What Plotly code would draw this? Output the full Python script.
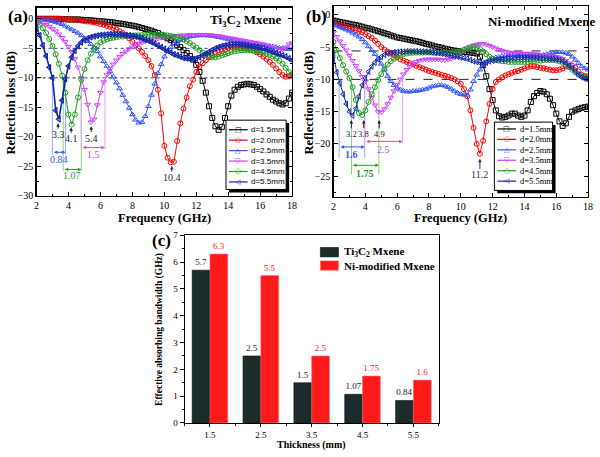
import plotly.graph_objects as go

# ---------------- data ----------------
FREQ = [2.0, 2.2, 2.4, 2.6, 2.8, 3.0, 3.2, 3.4, 3.6, 3.8,
        4.0, 4.2, 4.4, 4.6, 4.8, 5.0, 5.2, 5.4, 5.6, 5.8,
        6.0, 6.2, 6.4, 6.6, 6.8, 7.0, 7.2, 7.4, 7.6, 7.8,
        8.0, 8.2, 8.4, 8.6, 8.8, 9.0, 9.2, 9.4, 9.6, 9.8,
        10.0, 10.2, 10.4, 10.6, 10.8, 11.0, 11.2, 11.4, 11.6, 11.8,
        12.0, 12.2, 12.4, 12.6, 12.8, 13.0, 13.2, 13.4, 13.6, 13.8,
        14.0, 14.2, 14.4, 14.6, 14.8, 15.0, 15.2, 15.4, 15.6, 15.8,
        16.0, 16.2, 16.4, 16.6, 16.8, 17.0, 17.2, 17.4, 17.6, 17.8,
        18.0]

# (a) Ti3C2 Mxene
A_D15 = [0, 0, 0, 0, 0, 0, 0, 0, -0.05, -0.05,
         -0.1, -0.1, -0.1, -0.1, -0.15, -0.2, -0.2, -0.25, -0.3, -0.35,
         -0.4, -0.45, -0.5, -0.55, -0.6, -0.7, -0.8, -0.85, -0.95, -1.05,
         -1.15, -1.25, -1.4, -1.55, -1.7, -1.85, -2.0, -2.2, -2.4, -2.7,
         -3.0, -3.3, -3.6, -4.0, -4.4, -4.8, -5.3, -5.8, -6.3, -6.9,
         -7.8, -9.0, -10.5, -12.5, -14.8, -16.8, -18.2, -18.8, -18.3, -16.8,
         -14.8, -13.0, -12.0, -11.5, -11.2, -11.1, -11.0, -11.1, -11.2, -11.5,
         -11.9, -12.3, -12.8, -13.2, -13.7, -14.0, -14.3, -14.5, -14.3, -13.5,
         -12.5]
A_D20 = [0, 0, 0, 0, 0, 0, 0, 0, 0, -0.05,
         -0.1, -0.1, -0.15, -0.2, -0.3, -0.4, -0.45, -0.5, -0.6, -0.7,
         -0.9, -1.0, -1.2, -1.35, -1.55, -1.8, -2.1, -2.4, -2.8, -3.3,
         -3.9, -4.4, -5.0, -5.6, -6.3, -7.0, -8.0, -9.5, -12.0, -16.0,
         -21.5, -23.5, -24.3, -24.2, -20.7, -17.7, -15.2, -13.3, -11.4, -10.3,
         -9.0, -8.1, -7.5, -7.0, -6.5, -6.2, -5.9, -5.7, -5.5, -5.3,
         -4.9, -4.8, -4.8, -4.8, -4.9, -5.0, -5.1, -5.2, -5.4, -5.7,
         -6.0, -6.4, -6.8, -7.3, -7.8, -8.4, -9.0, -9.5, -9.8, -9.7,
         -9.4]
A_D25 = [-0.1, -0.1, -0.15, -0.2, -0.3, -0.4, -0.55, -0.7, -0.9, -1.2,
         -1.5, -1.8, -2.1, -2.4, -2.8, -3.3, -3.8, -4.3, -4.9, -5.5,
         -6.4, -7.2, -8.0, -8.9, -9.8, -10.8, -11.8, -12.9, -14.0, -15.1,
         -16.2, -17.1, -17.6, -17.5, -16.5, -14.8, -12.9, -11.0, -9.2, -7.7,
         -6.4, -5.5, -4.8, -4.3, -3.9, -3.6, -3.3, -3.1, -3.0, -2.9,
         -2.85, -2.8, -2.8, -2.8, -2.85, -2.9, -3.0, -3.1, -3.2, -3.35,
         -3.5, -3.6, -3.7, -3.8, -3.9, -4.0, -4.1, -4.2, -4.25, -4.3,
         -4.35, -4.4, -4.5, -4.6, -4.7, -4.8, -4.9, -5.0, -5.1, -5.1,
         -5.1]
A_D35 = [-0.3, -0.5, -0.7, -1.0, -1.3, -1.7, -2.1, -2.6, -3.2, -3.9,
         -4.7, -5.6, -6.8, -8.2, -10.0, -12.0, -14.5, -17.5, -17.0, -14.6,
         -12.5, -10.7, -9.5, -8.5, -7.7, -7.0, -6.4, -5.9, -5.5, -5.1,
         -4.8, -4.5, -4.2, -4.0, -3.8, -3.6, -3.5, -3.4, -3.3, -3.2,
         -3.1, -3.0, -3.0, -2.9, -2.9, -2.8, -2.8, -2.8, -2.7, -2.7,
         -2.7, -2.7, -2.7, -2.7, -2.75, -2.8, -2.85, -2.9, -3.0, -3.1,
         -3.2, -3.3, -3.4, -3.5, -3.6, -3.7, -3.8, -3.9, -4.0, -4.1,
         -4.2, -4.3, -4.5, -4.7, -4.9, -5.1, -5.2, -5.2, -4.8, -4.3,
         -4.1]
A_D45 = [-0.6, -1.0, -1.6, -2.4, -3.4, -4.6, -6.0, -7.6, -9.6, -12.5,
         -16.2, -17.9, -16.2, -13.3, -10.3, -8.5, -7.0, -5.9, -5.1, -4.5,
         -4.0, -3.7, -3.5, -3.3, -3.2, -3.1, -3.0, -3.0, -2.9, -2.9,
         -2.85, -2.8, -2.8, -2.75, -2.75, -2.7, -2.7, -2.7, -2.7, -2.7,
         -2.75, -2.8, -2.9, -3.0, -3.1, -3.3, -3.5, -3.8, -4.1, -4.5,
         -4.9, -5.3, -5.7, -6.0, -6.3, -6.5, -6.5, -6.4, -6.2, -6.0,
         -5.8, -5.6, -5.5, -5.4, -5.3, -5.3, -5.3, -5.3, -5.4, -5.5,
         -5.6, -5.7, -5.9, -6.1, -6.4, -6.7, -7.1, -7.6, -8.3, -9.0,
         -9.6]
A_D55 = [-1.5, -2.8, -4.5, -6.3, -8.2, -10.0, -15.5, -17.0, -13.8, -10.2,
         -8.0, -6.5, -5.4, -4.6, -4.0, -3.6, -3.3, -3.1, -2.95, -2.85,
         -2.75, -2.7, -2.65, -2.6, -2.6, -2.6, -2.65, -2.7, -2.75, -2.8,
         -2.9, -3.0, -3.15, -3.3, -3.5, -3.7, -3.95, -4.2, -4.5, -4.8,
         -5.1, -5.4, -5.7, -6.0, -6.2, -6.4, -6.6, -6.7, -6.8, -6.8,
         -6.7, -6.5, -6.2, -5.9, -5.6, -5.3, -5.0, -4.8, -4.6, -4.5,
         -4.4, -4.3, -4.3, -4.3, -4.35, -4.4, -4.5, -4.6, -4.7, -4.8,
         -4.9, -5.0, -5.2, -5.4, -5.6, -5.8, -6.0, -6.2, -6.4, -6.7,
         -7.0]

# (b) Ni-modified Mxene
B_D15 = [-0.9, -1.0, -1.1, -1.2, -1.3, -1.4, -1.5, -1.6, -1.7, -1.85,
         -2.0, -2.1, -2.25, -2.4, -2.55, -2.7, -2.85, -3.0, -3.2, -3.35,
         -3.5, -3.6, -3.7, -3.8, -3.9, -4.0, -4.1, -4.2, -4.35, -4.5,
         -4.6, -4.75, -4.9, -5.0, -5.1, -5.25, -5.35, -5.45, -5.55, -5.6,
         -5.7, -5.75, -5.8, -5.85, -5.9, -6.0, -6.5, -7.8, -9.5, -11.5,
         -13.2, -14.8, -15.7, -15.9, -15.8, -15.6, -15.3, -15.3, -15.6, -15.8,
         -15.6, -14.8, -13.5, -12.6, -12.1, -11.8, -11.9, -12.3, -13.0, -14.0,
         -15.3, -16.5, -17.2, -16.8, -15.8, -15.0, -14.8, -14.6, -14.4, -14.3,
         -14.2]
B_D20 = [-1.3, -1.45, -1.6, -1.75, -1.9, -2.05, -2.2, -2.35, -2.5, -2.7,
         -3.0, -3.3, -3.6, -4.0, -4.5, -5.0, -5.4, -5.7, -6.0, -6.3,
         -6.6, -6.9, -7.1, -7.3, -7.5, -7.7, -7.9, -8.1, -8.3, -8.5,
         -8.7, -8.85, -9.0, -9.15, -9.3, -9.45, -9.6, -9.8, -10.0, -10.3,
         -10.7, -11.5, -12.6, -14.8, -17.5, -20.0, -21.5, -19.5, -16.5, -13.8,
         -11.5, -10.4, -10.0, -9.7, -9.4, -9.2, -9.0, -8.8, -8.7, -8.5,
         -8.3, -8.1, -8.0, -8.0, -8.1, -8.2, -8.3, -8.4, -8.5, -8.6,
         -8.6, -8.5, -8.3, -8.0, -7.9, -7.9, -8.2, -8.8, -9.3, -9.5,
         -9.5]
B_D25 = [-1.5, -1.7, -1.9, -2.1, -2.3, -2.5, -2.8, -3.1, -3.4, -3.8,
         -4.3, -4.9, -5.5, -6.1, -6.8, -7.6, -8.5, -9.5, -10.3, -10.9,
         -11.3, -11.6, -11.8, -11.9, -11.9, -11.8, -11.8, -11.7, -11.6, -11.5,
         -11.3, -11.1, -11.0, -10.9, -10.9, -11.0, -11.2, -11.5, -11.8, -12.1,
         -12.3, -12.4, -12.4, -11.6, -10.3, -9.3, -8.5, -7.8, -7.3, -7.0,
         -6.8, -6.6, -6.5, -6.4, -6.3, -6.3, -6.2, -6.2, -6.2, -6.2,
         -6.2, -6.2, -6.3, -6.3, -6.3, -6.3, -6.2, -6.1, -6.0, -5.9,
         -5.8, -5.8, -5.8, -5.9, -6.1, -6.5, -7.0, -7.5, -8.0, -8.3,
         -8.5]
B_D35 = [-2.7, -3.4, -4.1, -4.8, -5.5, -6.3, -7.1, -7.9, -8.7, -9.6,
         -10.3, -11.5, -12.8, -14.0, -15.0, -15.1, -14.6, -13.8, -12.8, -11.8,
         -10.8, -10.0, -9.2, -8.5, -8.0, -7.6, -7.3, -7.1, -7.0, -6.9,
         -6.9, -6.9, -6.9, -6.9, -7.0, -7.0, -6.9, -6.8, -6.6, -6.3,
         -6.0, -5.6, -5.2, -4.9, -4.7, -4.6, -4.5, -4.5, -4.6, -4.8,
         -5.0, -5.2, -5.4, -5.6, -5.7, -5.8, -5.9, -5.9, -5.9, -6.0,
         -6.0, -6.0, -6.0, -6.1, -6.1, -6.2, -6.3, -6.3, -6.4, -6.5,
         -6.5, -6.6, -6.8, -7.1, -7.5, -8.0, -8.6, -9.1, -9.6, -9.8,
         -10.0]
B_D45 = [-4.2, -5.5, -6.7, -7.8, -8.8, -9.8, -11.2, -13.2, -15.2, -15.5,
         -14.8, -13.5, -12.3, -11.2, -10.1, -9.2, -8.4, -7.7, -7.2, -6.8,
         -6.5, -6.3, -6.1, -6.0, -5.9, -5.9, -5.85, -5.85, -5.85, -5.85,
         -5.85, -5.85, -5.9, -5.9, -5.9, -5.9, -5.9, -5.85, -5.8, -5.7,
         -5.6, -5.4, -5.2, -5.1, -5.0, -5.1, -5.3, -5.7, -6.1, -6.5,
         -6.8, -7.0, -7.1, -7.2, -7.2, -7.3, -7.3, -7.3, -7.3, -7.3,
         -7.3, -7.3, -7.2, -7.2, -7.1, -7.1, -7.0, -7.0, -7.0, -7.0,
         -7.1, -7.2, -7.4, -7.7, -8.1, -8.5, -8.9, -9.3, -9.5, -9.7,
         -9.8]
B_D55 = [-6.3, -8.9, -10.6, -12.3, -13.8, -15.0, -15.6, -14.5, -12.6, -10.9,
         -9.8, -8.8, -8.0, -7.4, -6.9, -6.5, -6.2, -6.0, -5.9, -5.8,
         -5.75, -5.7, -5.7, -5.65, -5.65, -5.65, -5.65, -5.7, -5.7, -5.7,
         -5.75, -5.8, -5.85, -5.9, -6.0, -6.1, -6.2, -6.3, -6.4, -6.5,
         -6.6, -6.7, -6.8, -7.0, -7.2, -7.3, -7.4, -7.5, -7.4, -7.2,
         -7.1, -7.0, -6.9, -6.9, -6.8, -6.8, -6.7, -6.7, -6.6, -6.6,
         -6.6, -6.6, -6.6, -6.6, -6.6, -6.7, -6.7, -6.8, -6.8, -6.8,
         -6.9, -7.0, -7.2, -7.5, -7.9, -8.3, -8.8, -9.3, -9.7, -9.9,
         -10.0]

SERIES_NAMES = ["d=1.5mm", "d=2.0mm", "d=2.5mm", "d=3.5mm", "d=4.5mm", "d=5.5mm"]
A_SERIES = [A_D15, A_D20, A_D25, A_D35, A_D45, A_D55]
B_SERIES = [B_D15, B_D20, B_D25, B_D35, B_D45, B_D55]

# (c) effective absorbing bandwidth
THICKNESS = [1.5, 2.5, 3.5, 4.5, 5.5]
THICK_TICKS = ["1.5", "2.5", "3.5", "4.5", "5.5"]
EAB_TI = [5.7, 2.5, 1.5, 1.07, 0.84]
EAB_NI = [6.3, 5.5, 2.5, 1.75, 1.6]
EAB_TI_TXT = ["5.7", "2.5", "1.5", "1.07", "0.84"]
EAB_NI_TXT = ["6.3", "5.5", "2.5", "1.75", "1.6"]

# ---------------- style ----------------
COLORS = ["#000000", "#ff0000", "#3355ff", "#cc44ff", "#1e9e1e", "#1428a8"]
LIGHT = {"blue": "#9aaaff", "green": "#86d886", "mag": "#e6a6ff"}
SYMBOLS = ["square-open", "circle-open", "triangle-up-open",
           "triangle-down-open", "circle-open", "triangle-left-open"]
GLYPHS = ["\u25a1", "\u25cb", "\u25b3", "\u25bd", "\u25cb", "\u25c1"]
SERIF = "Liberation Serif"
SANS = "Liberation Sans"
TI_COLOR = "#1c2b2b"
NI_COLOR = "#ff1a1a"

W, H = 600, 457


def PX(v):
    return v / W


def PY(v):
    return 1 - v / H


fig = go.Figure()

for i, ys in enumerate(A_SERIES):
    fig.add_trace(go.Scatter(
        x=FREQ, y=ys, mode="lines+markers", name=SERIES_NAMES[i],
        line=dict(color=COLORS[i], width=1.6 if i == 5 else 1),
        marker=dict(symbol=SYMBOLS[i], size=5, color=COLORS[i],
                    line=dict(width=1.2 if i == 5 else 1, color=COLORS[i])),
        xaxis="x", yaxis="y", showlegend=False, cliponaxis=True))

for i, ys in enumerate(B_SERIES):
    fig.add_trace(go.Scatter(
        x=FREQ, y=ys, mode="lines+markers", name=SERIES_NAMES[i],
        line=dict(color=COLORS[i], width=1),
        marker=dict(symbol=SYMBOLS[i], size=5, color=COLORS[i],
                    line=dict(width=1, color=COLORS[i])),
        xaxis="x2", yaxis="y2", showlegend=False, cliponaxis=True))

fig.add_trace(go.Bar(
    x=THICKNESS, y=EAB_TI, name="Ti3C2 Mxene", text=EAB_TI_TXT,
    textposition="outside", constraintext="none", cliponaxis=False,
    textfont=dict(family=SERIF, size=9, color="#222222"),
    marker=dict(color=TI_COLOR, line=dict(color="#0a1010", width=0.6)),
    xaxis="x3", yaxis="y3", showlegend=False))
fig.add_trace(go.Bar(
    x=THICKNESS, y=EAB_NI, name="Ni-modified Mxene", text=EAB_NI_TXT,
    textposition="outside", constraintext="none", cliponaxis=False,
    textfont=dict(family=SERIF, size=9, color="#ff2020"),
    marker=dict(color=NI_COLOR, line=dict(color="#ff7070", width=0.6)),
    xaxis="x3", yaxis="y3", showlegend=False))

tickfont = dict(family=SERIF, size=10, color="black")


def freq_axis(domain, anchor):
    return dict(domain=domain, anchor=anchor, range=[2, 18],
                tickvals=[2, 4, 6, 8, 10, 12, 14, 16, 18],
                ticks="inside", ticklen=4, tickwidth=1, tickcolor="black",
                minor=dict(dtick=1, tick0=0, ticks="inside", ticklen=2,
                           tickcolor="black"),
                showline=True, linecolor="black", linewidth=1.2, mirror="ticks",
                showgrid=False, zeroline=False, tickfont=tickfont)


def rl_axis(domain, anchor, rng):
    return dict(domain=domain, anchor=anchor, range=rng,
                tick0=0, dtick=5,
                ticks="inside", ticklen=4, tickwidth=1, tickcolor="black",
                minor=dict(dtick=2.5, tick0=0, ticks="inside", ticklen=2,
                           tickcolor="black"),
                showline=True, linecolor="black", linewidth=1.2, mirror="ticks",
                showgrid=False, zeroline=False, tickfont=tickfont)


fig.update_layout(
    width=W, height=H,
    margin=dict(l=0, r=0, t=0, b=0),
    paper_bgcolor="white", plot_bgcolor="white",
    showlegend=False,
    barmode="group", bargap=0.3, bargroupgap=0,
    xaxis=freq_axis([34 / W, 293 / W], "y"),
    yaxis=rl_axis([PY(195.7), PY(2.7)], "x", [-30, 1.9]),
    xaxis2=freq_axis([335 / W, 593 / W], "y2"),
    yaxis2=rl_axis([PY(196.7), PY(1.4)], "x2", [-28.2, 1.3]),
    xaxis3=dict(domain=[184 / W, 441.7 / W], anchor="y3", range=[1, 6],
                tickvals=THICKNESS, ticktext=THICK_TICKS,
                ticks="outside", ticklen=3, tickcolor="black",
                minor=dict(dtick=1, tick0=1, ticks="outside", ticklen=2,
                           tickcolor="black"),
                showline=True, linecolor="black", linewidth=1, mirror=True,
                showgrid=False, zeroline=False,
                tickfont=dict(family=SERIF, size=9, color="black")),
    yaxis3=dict(domain=[PY(428.3), PY(236)], anchor="x3", range=[0, 7],
                dtick=1, tick0=0,
                ticks="outside", ticklen=4, tickcolor="black",
                minor=dict(dtick=0.5, tick0=0, ticks="outside", ticklen=2,
                           tickcolor="black"),
                showline=True, linecolor="black", linewidth=1, mirror=True,
                showgrid=False, zeroline=False,
                tickfont=dict(family=SERIF, size=9, color="black")),
)

shapes = []
anns = []

# reference lines
shapes.append(dict(type="line", xref="x", yref="y", x0=2, x1=18, y0=-5, y1=-5,
                   line=dict(color="#3344cc", width=1, dash="dot"), layer="below"))
shapes.append(dict(type="line", xref="x", yref="y", x0=2, x1=18, y0=-10, y1=-10,
                   line=dict(color="#333333", width=1, dash="dot"), layer="below"))
shapes.append(dict(type="line", xref="x2", yref="y2", x0=2, x1=18, y0=-5.6, y1=-5.6,
                   line=dict(color="#222222", width=1, dash="dash"), layer="below"))
shapes.append(dict(type="line", xref="x2", yref="y2", x0=2, x1=18, y0=-10, y1=-10,
                   line=dict(color="#222222", width=1, dash="dash"), layer="below"))


def vline(xr, yr, x, y0, y1, color):
    shapes.append(dict(type="line", xref=xr, yref=yr, x0=x, x1=x, y0=y0, y1=y1,
                       line=dict(color=color, width=1), layer="below"))


def dbl_arrow(xr, yr, xa, xb, y, color):
    anns.append(dict(xref=xr, yref=yr, axref=xr, ayref=yr, x=xb, y=y, ax=xa, ay=y,
                     text="", showarrow=True, arrowside="end+start", arrowhead=2,
                     arrowsize=0.7, arrowwidth=1, arrowcolor=color))


def peak_label(xr, yr, x, ytip, ylab, text, color="#222222", size=10):
    # label below the minimum, with an arrow pointing up to it
    anns.append(dict(xref=xr, yref=yr, axref=xr, ayref=yr, x=x, y=ytip, ax=x, ay=ylab,
                     text=text, showarrow=True, arrowhead=2, arrowsize=0.7,
                     arrowwidth=1, arrowcolor=color, borderpad=0,
                     font=dict(family=SERIF, size=size, color=color)))


def label(xr, yr, x, y, text, color, size=10, bold=False):
    anns.append(dict(xref=xr, yref=yr, x=x, y=y, text=f"<b>{text}</b>" if bold else text,
                     showarrow=False, xanchor="center", yanchor="middle",
                     font=dict(family=SERIF, size=size, color=color)))


# (a) bandwidth markers
vline("x", "y", 2.99, -10, -23.1, LIGHT["blue"])
vline("x", "y", 3.81, -10, -23.1, LIGHT["blue"])
vline("x", "y", 3.67, -10, -25.8, LIGHT["green"])
vline("x", "y", 4.80, -10, -25.8, LIGHT["green"])
vline("x", "y", 4.80, -10, -22.1, LIGHT["mag"])
vline("x", "y", 6.28, -10, -22.1, LIGHT["mag"])
dbl_arrow("x", "y", 2.99, 3.81, -22.6, COLORS[2])
dbl_arrow("x", "y", 3.67, 4.80, -25.5, COLORS[4])
dbl_arrow("x", "y", 4.80, 6.28, -21.8, COLORS[3])
label("x", "y", 3.4, -23.8, "0.84", COLORS[2])
label("x", "y", 4.2, -26.6, "1.07", COLORS[4])
label("x", "y", 5.55, -22.9, "1.5", COLORS[3])
peak_label("x", "y", 3.35, -17.7, -19.6, "3.3")
peak_label("x", "y", 4.17, -18.4, -20.3, "4.1")
peak_label("x", "y", 5.42, -18.2, -20.2, "5.4")
peak_label("x", "y", 10.47, -24.9, -26.9, "10.4", "#2a3050")

# (b) bandwidth markers
vline("x2", "y2", 2.35, -10, -22.2, LIGHT["blue"])
vline("x2", "y2", 3.96, -10, -22.2, LIGHT["blue"])
vline("x2", "y2", 3.13, -10, -24.7, LIGHT["green"])
vline("x2", "y2", 4.85, -10, -24.7, LIGHT["green"])
vline("x2", "y2", 3.96, -10, -19.9, LIGHT["mag"])
vline("x2", "y2", 6.34, -10, -19.9, LIGHT["mag"])
dbl_arrow("x2", "y2", 2.35, 3.96, -20.45, COLORS[2])
dbl_arrow("x2", "y2", 3.13, 4.85, -23.3, COLORS[4])
dbl_arrow("x2", "y2", 3.96, 6.34, -19.6, COLORS[3])
label("x2", "y2", 3.13, -21.7, "1.6", COLORS[2], bold=True)
label("x2", "y2", 3.98, -24.6, "1.75", COLORS[4], bold=True)
label("x2", "y2", 5.15, -20.8, "2.5", COLORS[3])
peak_label("x2", "y2", 3.12, -16.3, -18.4, "3.2", size=8.5)
peak_label("x2", "y2", 3.9, -16.3, -18.4, "3.8", size=8.5)
peak_label("x2", "y2", 4.87, -16.3, -18.4, "4.9", size=8.5)
peak_label("x2", "y2", 11.2, -22.3, -24.8, "11.2", "#2a3050")


# manual legends for (a) and (b)
def legend_box(left, top, right, bottom, y0, step, lx0, lx1, tx, fam, fsize):
    shapes.append(dict(type="rect", xref="paper", yref="paper",
                       x0=PX(left + 3), x1=PX(right + 3), y0=PY(bottom + 3), y1=PY(top + 3),
                       fillcolor="black", line=dict(width=0), layer="above"))
    shapes.append(dict(type="rect", xref="paper", yref="paper",
                       x0=PX(left), x1=PX(right), y0=PY(bottom), y1=PY(top),
                       fillcolor="white", line=dict(color="black", width=1), layer="above"))
    for i, nm in enumerate(SERIES_NAMES):
        yy = y0 + i * step
        shapes.append(dict(type="line", xref="paper", yref="paper",
                           x0=PX(lx0), x1=PX(lx1), y0=PY(yy), y1=PY(yy),
                           line=dict(color=COLORS[i], width=1.2), layer="above"))
        anns.append(dict(xref="paper", yref="paper", x=PX((lx0 + lx1) / 2), y=PY(yy),
                         text=GLYPHS[i], showarrow=False, xanchor="center", yanchor="middle",
                         font=dict(family="DejaVu Sans", size=7, color=COLORS[i])))
        anns.append(dict(xref="paper", yref="paper", x=PX(tx), y=PY(yy),
                         text=nm, showarrow=False, xanchor="left", yanchor="middle",
                         font=dict(family=fam, size=fsize, color="black")))


legend_box(226, 118, 287, 189, 127.8, 10.7, 229, 248, 249.5, SANS, 8)
legend_box(498, 120, 557, 190, 127.0, 10.7, 501, 520, 522, SERIF, 8.5)

# (c) legend
for yy, col, edge, txt in [(253.3, TI_COLOR, "#0a1010", "Ti<sub>3</sub>C<sub>2</sub> Mxene"),
                           (267.0, NI_COLOR, "#ff7070", "Ni-modified Mxene")]:
    shapes.append(dict(type="rect", xref="paper", yref="paper",
                       x0=PX(321.7), x1=PX(340), y0=PY(yy + 4.8), y1=PY(yy - 4.8),
                       fillcolor=col, line=dict(color=edge, width=0.6), layer="above"))
    anns.append(dict(xref="paper", yref="paper", x=PX(343.5), y=PY(yy), text=f"<b>{txt}</b>",
                     showarrow=False, xanchor="left", yanchor="middle",
                     font=dict(family=SERIF, size=11, color="black")))

# panel titles & labels
anns.append(dict(xref="paper", yref="paper", x=PX(246), y=PY(15.5),
                 text="<b>Ti<sub>3</sub>C<sub>2</sub> Mxene</b>", showarrow=False,
                 xanchor="center", yanchor="middle", font=dict(family=SERIF, size=13, color="black")))
anns.append(dict(xref="paper", yref="paper", x=PX(546), y=PY(16.5),
                 text="<b>Ni-modified Mxene</b>", showarrow=False,
                 xanchor="center", yanchor="middle", font=dict(family=SERIF, size=13, color="black")))
for txt, x, y in [("(a)", 15, 12), ("(b)", 318, 12), ("(c)", 161, 241)]:
    anns.append(dict(xref="paper", yref="paper", x=PX(x), y=PY(y), text=f"<b>{txt}</b>",
                     showarrow=False, xanchor="center", yanchor="middle",
                     font=dict(family=SERIF, size=17, color="black")))

# axis titles
for txt, x, y, ang, size in [
        ("Frequency (GHz)", 163.5, 218, 0, 12.5),
        ("Frequency (GHz)", 464, 218, 0, 12.5),
        ("Reflection loss (dB)", 8, 100, -90, 12.5),
        ("Reflection loss (dB)", 310, 100, -90, 12.5),
        ("Thickness (mm)", 312.5, 450.5, 0, 10),
        ("Effective absorbing bandwidth (GHz)", 158, 332, -90, 9.5)]:
    anns.append(dict(xref="paper", yref="paper", x=PX(x), y=PY(y), text=f"<b>{txt}</b>",
                     showarrow=False, xanchor="center", yanchor="middle", textangle=ang,
                     font=dict(family=SERIF, size=size, color="black")))

fig.update_layout(shapes=shapes, annotations=anns)
fig.write_html(
    "out.html",
    config={"displayModeBar": False, "staticPlot": True},
    post_script="document.body.style.margin='0px';document.body.style.padding='0px';"
                "document.body.style.overflow='hidden';",
)
